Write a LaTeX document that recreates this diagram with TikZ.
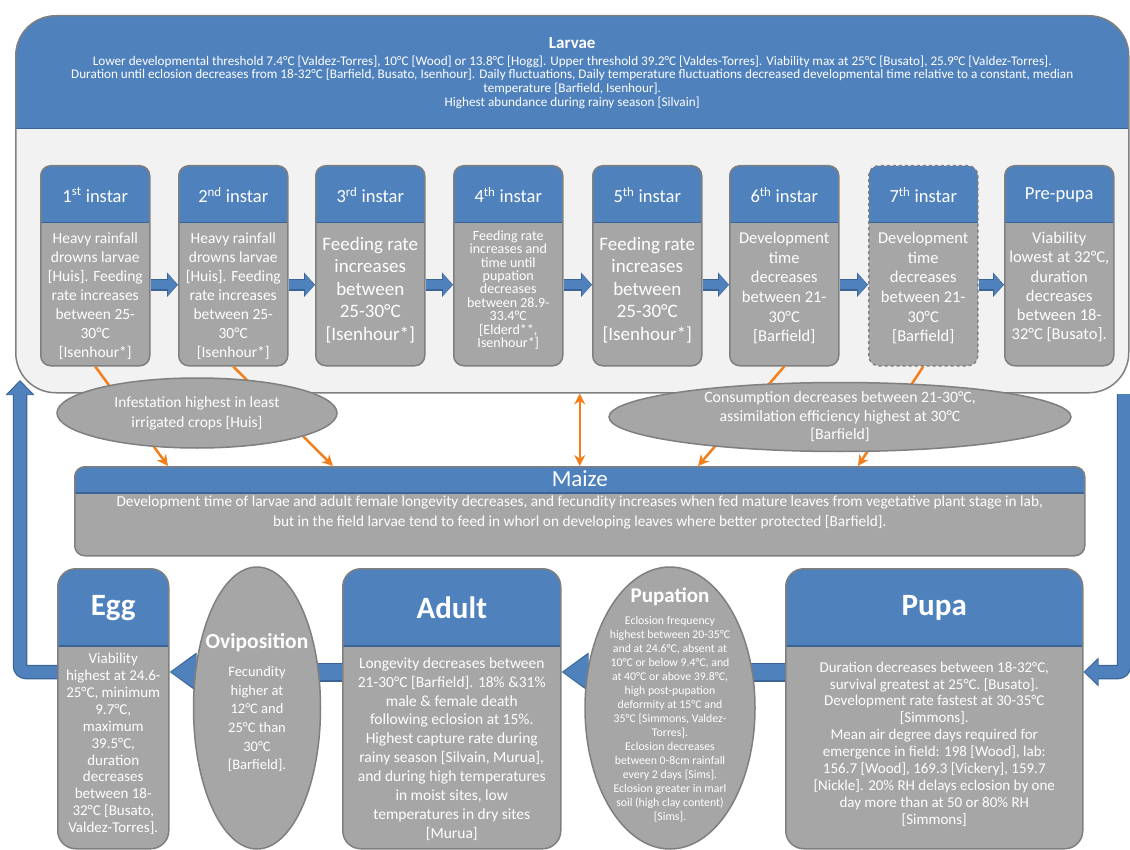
\documentclass[tikz,border=0pt]{standalone}
\usepackage{fontspec}
\setmainfont{Carlito}
\usetikzlibrary{shapes,arrows.meta,positioning,calc}

\definecolor{hdrblue}{HTML}{4F81BD}
\definecolor{hdrline}{HTML}{3A6496}
\definecolor{bodygray}{HTML}{A6A6A6}
\definecolor{linegray}{HTML}{7F7F7F}
\definecolor{panelgray}{HTML}{F2F2F2}
\definecolor{orng}{HTML}{F27F1B}

\pgfdeclarelayer{front}
\pgfsetlayers{main,front}

\begin{document}
\begin{tikzpicture}[x=1pt, y=-1pt,
    stage/.style={rectangle, draw=linegray, line width=1.5pt, fill=bodygray, inner sep=0pt, anchor=north west,
        path picture={\fill[hdrblue, sharp corners] (path picture bounding box.north west) rectangle ([yshift=-#1]path picture bounding box.north east);
            \draw[hdrline, solid, sharp corners, line width=1.5pt] ([yshift=-#1]path picture bounding box.north west) -- ([yshift=-#1]path picture bounding box.north east);}},
    instar/.style={stage=57pt, rounded corners=10pt, minimum width=109pt, minimum height=200pt},
    phase/.style={stage=77pt, rounded corners=18pt, minimum height=280pt},
    note/.style={ellipse, draw=linegray, line width=1.5pt, fill=bodygray, inner sep=0pt},
    hname/.style={text=white, inner sep=0pt, font=\fontsize{18.5}{21}\selectfont},
    stagename/.style={text=white, inner sep=0pt, font=\fontsize{31}{34}\selectfont\bfseries},
    txt/.style={text=white, align=center, inner sep=0pt, font=\fontsize{15.5}{19}\selectfont},
    flow/.style={line width=9pt, hdrblue, -{Triangle[length=9pt,width=21pt]}, shorten >=1pt,
        preaction={draw=hdrline, line width=12pt, -{Triangle[length=11pt,width=24pt]}, shorten >=0pt}},
    bigflow/.style={line width=16pt, hdrblue, -{Triangle[length=25pt,width=33pt]}, shorten >=1.5pt,
        preaction={draw=hdrline, line width=19pt, -{Triangle[length=27pt,width=37pt]}, shorten >=0pt}},
    loopflow/.style={line width=12pt, hdrblue, -{Triangle[length=13pt,width=24pt]}, shorten >=1.5pt,
        preaction={draw=hdrline, line width=14.5pt, -{Triangle[length=15pt,width=28pt]}, shorten >=0pt}},
    >={Stealth[length=11pt,width=11pt]},
    impact/.style={draw=orng, line width=2.5pt, ->}
]
\useasboundingbox (0,0) rectangle (1130,850);

% Larvae panel
\node[stage=113pt, rounded corners=40pt, fill=panelgray, minimum width=1113pt, minimum height=377pt] (larvae) at (15,15) {};
\node[hname, font=\fontsize{17}{20}\selectfont\bfseries] (larvaet) at ([yshift=-28pt]larvae.north) {Larvae};
\node[txt, font=\fontsize{13.2}{13.6}\selectfont] (larvaeb) at ([yshift=-67pt]larvae.north) {Lower developmental threshold 7.4°C [Valdez-Torres], 10°C [Wood] or 13.8°C [Hogg]. Upper threshold 39.2°C [Valdes-Torres]. Viability max at 25°C [Busato], 25.9°C [Valdez-Torres].\\
Duration until eclosion decreases from 18-32°C [Barfield, Busato, Isenhour]. Daily fluctuations,  Daily temperature fluctuations decreased developmental time relative to a constant, median\\
temperature [Barfield, Isenhour].\\
Highest abundance during rainy season [Silvain]};

% Instars
\node[instar] (i1) at (40,165) {};
\node[hname] (i1h) at ([yshift=-30pt]i1.north) {1\textsuperscript{st} instar};
\node[txt] (i1b) at ([yshift=-131pt]i1.north) {Heavy rainfall\\drowns larvae\\{}[Huis]. Feeding\\rate increases\\between 25-\\30°C\\{}[Isenhour*]};

\node[instar] (i2) at (178,165) {};
\node[hname] (i2h) at ([yshift=-30pt]i2.north) {2\textsuperscript{nd} instar};
\node[txt] (i2b) at ([yshift=-131pt]i2.north) {Heavy rainfall\\drowns larvae\\{}[Huis]. Feeding\\rate increases\\between 25-\\30°C\\{}[Isenhour*]};

\node[instar] (i3) at (315,165) {};
\node[hname] (i3h) at ([yshift=-30pt]i3.north) {3\textsuperscript{rd} instar};
\node[txt, font=\fontsize{19}{22.5}\selectfont] (i3b) at ([yshift=-125pt]i3.north) {Feeding rate\\increases\\between\\25-30°C\\{}[Isenhour*]};

\node[instar] (i4) at (453,165) {};
\node[hname] (i4h) at ([yshift=-30pt]i4.north) {4\textsuperscript{th} instar};
\node[txt, font=\fontsize{14}{13.4}\selectfont] (i4b) at ([yshift=-125pt]i4.north) {Feeding rate\\increases and\\time until\\pupation\\decreases\\between 28.9-\\33.4°C\\{}[Elderd**,\\Isenhour*]};

\node[instar] (i5) at (592,165) {};
\node[hname] (i5h) at ([yshift=-30pt]i5.north) {5\textsuperscript{th} instar};
\node[txt, font=\fontsize{19}{22.5}\selectfont] (i5b) at ([yshift=-125pt]i5.north) {Feeding rate\\increases\\between\\25-30°C\\{}[Isenhour*]};

\node[instar] (i6) at (729,165) {};
\node[hname] (i6h) at ([yshift=-30pt]i6.north) {6\textsuperscript{th} instar};
\node[txt, font=\fontsize{16.5}{19.7}\selectfont] (i6b) at ([yshift=-123pt]i6.north) {Development\\time\\decreases\\between 21-\\30°C\\{}[Barfield]};

\node[instar, dashed] (i7) at (868,165) {};
\node[hname] (i7h) at ([yshift=-30pt]i7.north) {7\textsuperscript{th} instar};
\node[txt, font=\fontsize{16.5}{19.7}\selectfont] (i7b) at ([yshift=-123pt]i7.north) {Development\\time\\decreases\\between 21-\\30°C\\{}[Barfield]};

\node[instar] (pp) at (1004,165) {};
\node[hname] (pph) at ([yshift=-30pt]pp.north) {Pre-pupa};
\node[txt, font=\fontsize{16.5}{19.2}\selectfont] (ppb) at ([yshift=-122pt]pp.north) {Viability\\lowest at 32°C,\\duration\\decreases\\between 18-\\32°C [Busato].};

% Maize
\node[stage=26pt, rounded corners=10pt, minimum width=1010pt, minimum height=89pt] (maize) at (74,466) {};
\node[hname, font=\fontsize{23}{26}\selectfont] (maizet) at ([yshift=-13pt]maize.north) {Maize};
\node[txt, font=\fontsize{15.3}{20}\selectfont] (maizeb) at ([yshift=-47pt]maize.north) {Development time of larvae and adult female longevity decreases, and fecundity increases when fed mature leaves from vegetative plant stage in lab,\\
but in the field larvae tend to feed in whorl on developing leaves where better protected [Barfield].};

% Life stages
\node[phase, minimum width=111pt] (egg) at (57,568) {};
\node[stagename] (eggt) at ([yshift=-40pt]egg.north) {Egg};
\node[txt, font=\fontsize{15}{16.9}\selectfont] (eggb) at ([yshift=-176pt]egg.north) {Viability\\highest at 24.6-\\25°C, minimum\\9.7°C,\\maximum\\39.5°C,\\duration\\decreases\\between 18-\\32°C [Busato,\\Valdez-Torres].};

\node[phase, minimum width=218pt] (adult) at (342,568) {};
\node[stagename] (adultt) at ([yshift=-40pt]adult.north) {Adult};
\node[txt, font=\fontsize{15.5}{18.9}\selectfont] (adultb) at ([yshift=-181pt]adult.north) {Longevity decreases between\\21-30°C [Barfield]. 18\% \&31\%\\male \& female death\\following eclosion at 15\%.\\Highest capture rate during\\rainy season [Silvain, Murua],\\and during high temperatures\\in moist sites, low\\temperatures in dry sites\\{}[Murua]};

\node[phase, minimum width=297pt] (pupa) at (785,568) {};
\node[stagename] (pupat) at ([yshift=-40pt]pupa.north) {Pupa};
\node[txt, font=\fontsize{15}{16.9}\selectfont] (pupab) at ([yshift=-176pt]pupa.north) {Duration decreases  between 18-32°C,\\survival greatest at 25°C. [Busato].\\Development rate fastest at 30-35°C\\{}[Simmons].\\Mean air degree days required for\\emergence in field: 198 [Wood], lab:\\156.7 [Wood], 169.3 [Vickery], 159.7\\{}[Nickle]. 20\% RH delays eclosion by one\\day more than at 50 or 80\% RH\\{}[Simmons]};

% Ellipses
\begin{pgfonlayer}{front}
\node[note, minimum width=280pt, minimum height=70pt] (crops) at (197,413) {};
\node[txt, font=\fontsize{15.5}{20}\selectfont] (cropst) at (crops) {Infestation highest in least\\irrigated crops [Huis]};
\node[note, minimum width=462pt, minimum height=69pt] (intake) at (840,417) {};
\node[txt, font=\fontsize{15.8}{18.5}\selectfont] (intaket) at (intake) {Consumption decreases between 21-30°C,\\assimilation efficiency highest at 30°C\\{}[Barfield]};
\node[note, minimum width=127pt, minimum height=282pt] (ovi) at (257,708) {};
\node[hname, font=\fontsize{21.5}{24}\selectfont\bfseries] (ovit) at (257,643) {Oviposition};
\node[txt, font=\fontsize{14.5}{18.7}\selectfont] (ovib) at (257,719) {Fecundity\\higher at\\12°C and\\25°C than\\30°C\\{}[Barfield].};
\node[note, minimum width=170pt, minimum height=282pt] (pupation) at (670,708) {};
\node[hname, font=\fontsize{21}{24}\selectfont\bfseries] (pupationt) at (670,597) {Pupation};
\node[txt, font=\fontsize{11.8}{14}\selectfont] (pupationb) at (670,719) {Eclosion frequency\\highest between 20-35°C\\and at 24.6°C, absent at\\10°C or below 9.4°C, and\\at 40°C or above 39.8°C,\\high post-pupation\\deformity at 15°C and\\35°C [Simmons, Valdez-\\Torres].\\Eclosion decreases\\between 0-8cm rainfall\\every 2 days [Sims].\\Eclosion greater in marl\\soil (high clay content)\\{}[Sims].};
\end{pgfonlayer}

% Arrows
\draw[flow] ([yshift=-19pt]i1.east) -- ([yshift=-19pt]i2.west);
\draw[flow] ([yshift=-19pt]i2.east) -- ([yshift=-19pt]i3.west);
\draw[flow] ([yshift=-19pt]i3.east) -- ([yshift=-19pt]i4.west);
\draw[flow] ([yshift=-19pt]i4.east) -- ([yshift=-19pt]i5.west);
\draw[flow] ([yshift=-19pt]i5.east) -- ([yshift=-19pt]i6.west);
\draw[flow] ([yshift=-19pt]i6.east) -- ([yshift=-19pt]i7.west);
\draw[flow] ([yshift=-19pt]i7.east) -- ([yshift=-19pt]pp.west);

\coordinate (lane) at (0,672);
\draw[bigflow] (pupa.west |- lane) -- (pupation.center |- lane);
\draw[bigflow] (pupation.center |- lane) -- (adult.east |- lane);
\draw[bigflow] (adult.west |- lane) -- (ovi.center |- lane);
\draw[bigflow] (ovi.center |- lane) -- (egg.east |- lane);

\coordinate (up) at (20,380);
\coordinate (down) at (1124,394);
\draw[loopflow, rounded corners=6pt] (egg.west |- lane) -| (up);
\draw[loopflow, rounded corners=6pt] (down) |- (pupa.east |- lane);

% Effects on maize
\draw[impact] (i1.south) -- ($(maize.north west)+(94,0)$);
\draw[impact] (i2.south) -- ($(maize.north west)+(259,0)$);
\draw[impact, <->] (maize.north |- larvae.south) -- (maize.north);
\draw[impact] (i6.south) -- ($(maize.north west)+(624,0)$);
\draw[impact] (i7.south) -- ($(maize.north west)+(784,0)$);
\end{tikzpicture}
\end{document}
